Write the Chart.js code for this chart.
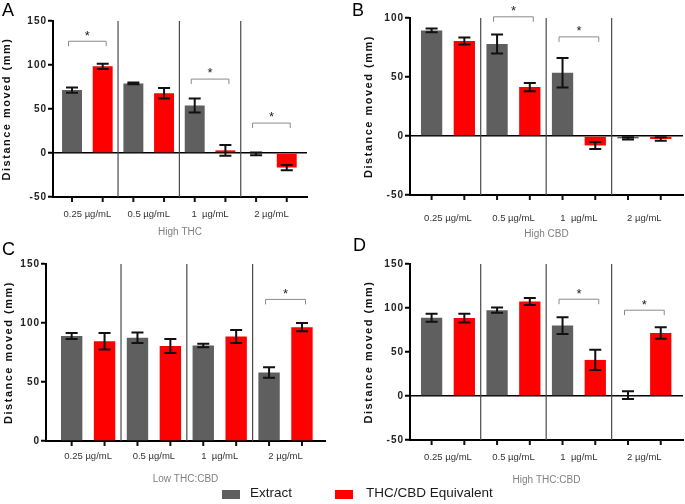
<!DOCTYPE html>
<html>
<head>
<meta charset="utf-8">
<script src="https://cdn.jsdelivr.net/npm/chart.js@4.4.0/dist/chart.umd.min.js"></script>
<style>
  body { margin: 0; background: #fff; width: 685px; height: 504px; position: relative; overflow: hidden;
         font-family: "Liberation Sans", Arial, sans-serif; }
  canvas { position: absolute; }
  .letter { position: absolute; font-size: 18px; line-height: 18px; color: #000; }
  .box { position: absolute; width: 18px; height: 9px; }
  .lbl { position: absolute; font-size: 13.5px; line-height: 14px; color: #1a1a1a; white-space: nowrap; }
</style>
</head>
<body>
<canvas id="chartA" width="342" height="240" style="left:0;top:0"></canvas>
<canvas id="chartB" width="343" height="240" style="left:342px;top:0"></canvas>
<canvas id="chartC" width="342" height="246" style="left:0;top:240px"></canvas>
<canvas id="chartD" width="343" height="246" style="left:342px;top:240px"></canvas>

<div class="letter" style="left:2px;top:1px">A</div>
<div class="letter" style="left:352px;top:1px">B</div>
<div class="letter" style="left:2px;top:240px">C</div>
<div class="letter" style="left:353px;top:236px">D</div>

<div class="box" style="left:222px;top:490px;background:#5f5f5f"></div>
<div class="lbl" style="left:250px;top:486px">Extract</div>
<div class="box" style="left:335px;top:490px;background:#ff0000"></div>
<div class="lbl" style="left:366px;top:486px">THC/CBD Equivalent</div>

<script>
const doses = ['0.25 µg/mL', '0.5 µg/mL', '1  µg/mL', '2 µg/mL'];

// A - High THC
const extractA = [71.5, 79, 54, -1];
const extractErrA = [3, 1, 8, 1.5];
const equivA = [98.5, 68, 3, -16.5];
const equivErrA = [3, 6, 6, 3];
const sigA = [127, null, 84, 34];

// B - High CBD
const extractB = [89.5, 78, 53.5, -2];
const extractErrB = [1.5, 8, 12.5, 1];
const equivB = [80.5, 41.5, -8, -2.5];
const equivErrB = [3, 3.5, 3, 1.5];
const sigB = [null, 101, 84, null];

// C - Low THC:CBD
const extractC = [89, 87.5, 81, 58];
const extractErrC = [2.5, 4.5, 1.5, 4.5];
const equivC = [84.5, 80.5, 88.5, 96.5];
const equivErrC = [7, 6, 5.5, 3.5];
const sigC = [null, null, null, 120];

// D - High THC:CBD
const extractD = [89, 97.5, 80, 1];
const extractErrD = [4.5, 3, 9.5, 4.5];
const equivD = [88.5, 107.5, 41, 71.5];
const equivErrD = [5, 4, 11.5, 6.5];
const sigD = [null, null, 110, 97.5];

const FONT = '"Liberation Sans", Arial, sans-serif';

// separators, error bars, x tick marks and significance brackets
const marks = {
  id: 'marks',
  beforeDraw(chart) {
    const s = chart.scales.y;
    if (s._spaced) return;
    s._spaced = true;
    const title = s.drawTitle, labels = s.drawLabels;
    s.drawTitle = function () { this.ctx.save(); this.ctx.letterSpacing = '1.5px'; title.apply(this, arguments); this.ctx.restore(); };
    s.drawLabels = function () { this.ctx.save(); this.ctx.letterSpacing = '1px'; labels.apply(this, arguments); this.ctx.restore(); };
  },
  beforeDatasetsDraw(chart) {
    const {ctx, chartArea, scales: {x}} = chart;
    ctx.save();
    ctx.strokeStyle = '#4a4a4a';
    ctx.lineWidth = 1.2;
    for (let i = 0; i < doses.length - 1; i++) {
      const px = x.getPixelForValue(i + 0.5);
      ctx.beginPath();
      ctx.moveTo(px, chartArea.top);
      ctx.lineTo(px, chartArea.bottom);
      ctx.stroke();
    }
    ctx.restore();
  },
  afterDatasetsDraw(chart) {
    const {ctx, chartArea, scales: {y}} = chart;
    ctx.save();
    ctx.strokeStyle = '#111';
    ctx.lineWidth = 2;
    chart.data.datasets.forEach((ds, di) => {
      chart.getDatasetMeta(di).data.forEach((bar, i) => {
        const v = ds.data[i].y, e = ds.errors[i];
        const top = y.getPixelForValue(v + e), bot = y.getPixelForValue(v - e);
        ctx.beginPath();
        ctx.moveTo(bar.x, top); ctx.lineTo(bar.x, bot);
        ctx.moveTo(bar.x - 6, top); ctx.lineTo(bar.x + 6, top);
        ctx.moveTo(bar.x - 6, bot); ctx.lineTo(bar.x + 6, bot);
        // tick below x axis
        ctx.moveTo(bar.x, chartArea.bottom); ctx.lineTo(bar.x, chartArea.bottom + 5);
        ctx.stroke();
      });
    });

    const gray = chart.getDatasetMeta(0).data, red = chart.getDatasetMeta(1).data;
    const sig = chart.data.datasets[1].sig;
    ctx.font = '13px ' + FONT;
    ctx.textAlign = 'center';
    ctx.textBaseline = 'alphabetic';
    sig.forEach((lvl, i) => {
      if (lvl === null) return;
      const mid = (gray[i].x + red[i].x) / 2, half = (red[i].x - gray[i].x) / 2 + 3.5;
      const py = y.getPixelForValue(lvl);
      ctx.strokeStyle = '#8a8a8a';
      ctx.lineWidth = 1;
      ctx.beginPath();
      ctx.moveTo(mid - half, py + 5); ctx.lineTo(mid - half, py);
      ctx.lineTo(mid + half, py); ctx.lineTo(mid + half, py + 5);
      ctx.stroke();
      ctx.fillStyle = '#222';
      ctx.fillText('*', mid, py - 9 + 7.4);
    });
    ctx.restore();
  }
};

function makePanel(id, c) {
  return new Chart(document.getElementById(id), {
    type: 'bar',
    data: {
      datasets: [
        { label: 'Extract', data: c.extract.map((v, i) => ({x: i, y: v})), errors: c.extractErr,
          backgroundColor: '#5f5f5f', categoryPercentage: 1, barPercentage: 0.65 },
        { label: 'THC/CBD Equivalent', data: c.equiv.map((v, i) => ({x: i, y: v})), errors: c.equivErr, sig: c.sig,
          backgroundColor: '#ff0000', categoryPercentage: 1, barPercentage: 0.65 }
      ]
    },
    options: {
      responsive: false,
      animation: false,
      layout: { padding: { top: c.top, right: c.right, left: 0, bottom: 0 } },
      plugins: { legend: { display: false }, tooltip: { enabled: false } },
      scales: {
        x: {
          type: 'linear', min: c.xMin, max: c.xMax, offset: false,
          afterBuildTicks: s => { s.ticks = doses.map((d, i) => ({value: i})); },
          afterFit: s => { s.height = c.xHeight; },
          grid: { display: false, drawTicks: false, offset: false },
          border: { color: '#000', width: 2 },
          ticks: { callback: v => doses[v], padding: c.labelPad, color: '#333', autoSkip: false, maxRotation: 0,
                   font: { family: FONT, size: 9.5 } },
          title: { display: true, text: c.title, color: '#808080', font: { family: FONT, size: 10 },
                   padding: { top: 0, bottom: c.titlePad } }
        },
        y: {
          min: c.yMin, max: c.yMax,
          afterFit: s => { s.width = c.yWidth; },
          ticks: { stepSize: 50, padding: 1, color: '#222', font: { family: FONT, size: 10, weight: 'bold' } },
          grid: { color: g => (g.tick && g.tick.value === 0) ? '#000' : 'rgba(0,0,0,0)', lineWidth: 1.5,
                  tickColor: '#000', tickLength: 5, tickWidth: 2 },
          border: { color: '#000', width: 2 },
          title: { display: true, text: 'Distance moved (mm)', color: '#111',
                   font: { family: FONT, size: 11, weight: 'bold' }, padding: { top: c.yTitlePad, bottom: 0 } }
        }
      }
    },
    plugins: [marks]
  });
}

makePanel('chartA', { extract: extractA, extractErr: extractErrA, equiv: equivA, equivErr: equivErrA, sig: sigA,
  title: 'High THC', yMin: -50, yMax: 150, xMin: -0.56, xMax: 3.58,
  top: 21, right: 35, yWidth: 53, xHeight: 43, labelPad: 12, titlePad: 2, yTitlePad: 0 });

makePanel('chartB', { extract: extractB, extractErr: extractErrB, equiv: equivB, equivErr: equivErrB, sig: sigB,
  title: 'High CBD', yMin: -50, yMax: 100, xMin: -0.58, xMax: 3.59,
  top: 18, right: 2, yWidth: 68, xHeight: 45, labelPad: 18, titlePad: 0, yTitlePad: 20 });

makePanel('chartC', { extract: extractC, extractErr: extractErrC, equiv: equivC, equivErr: equivErrC, sig: sigC,
  title: 'Low THC:CBD', yMin: 0, yMax: 150, xMin: -0.64, xMax: 3.6,
  top: 24, right: 17, yWidth: 46, xHeight: 45, labelPad: 10, titlePad: 1, yTitlePad: 2 });

makePanel('chartD', { extract: extractD, extractErr: extractErrD, equiv: equivD, equivErr: equivErrD, sig: sigD,
  title: 'High THC:CBD', yMin: -50, yMax: 150, xMin: -0.58, xMax: 3.59,
  top: 24, right: 2, yWidth: 68, xHeight: 46, labelPad: 12, titlePad: 0, yTitlePad: 20 });
</script>
</body>
</html>
